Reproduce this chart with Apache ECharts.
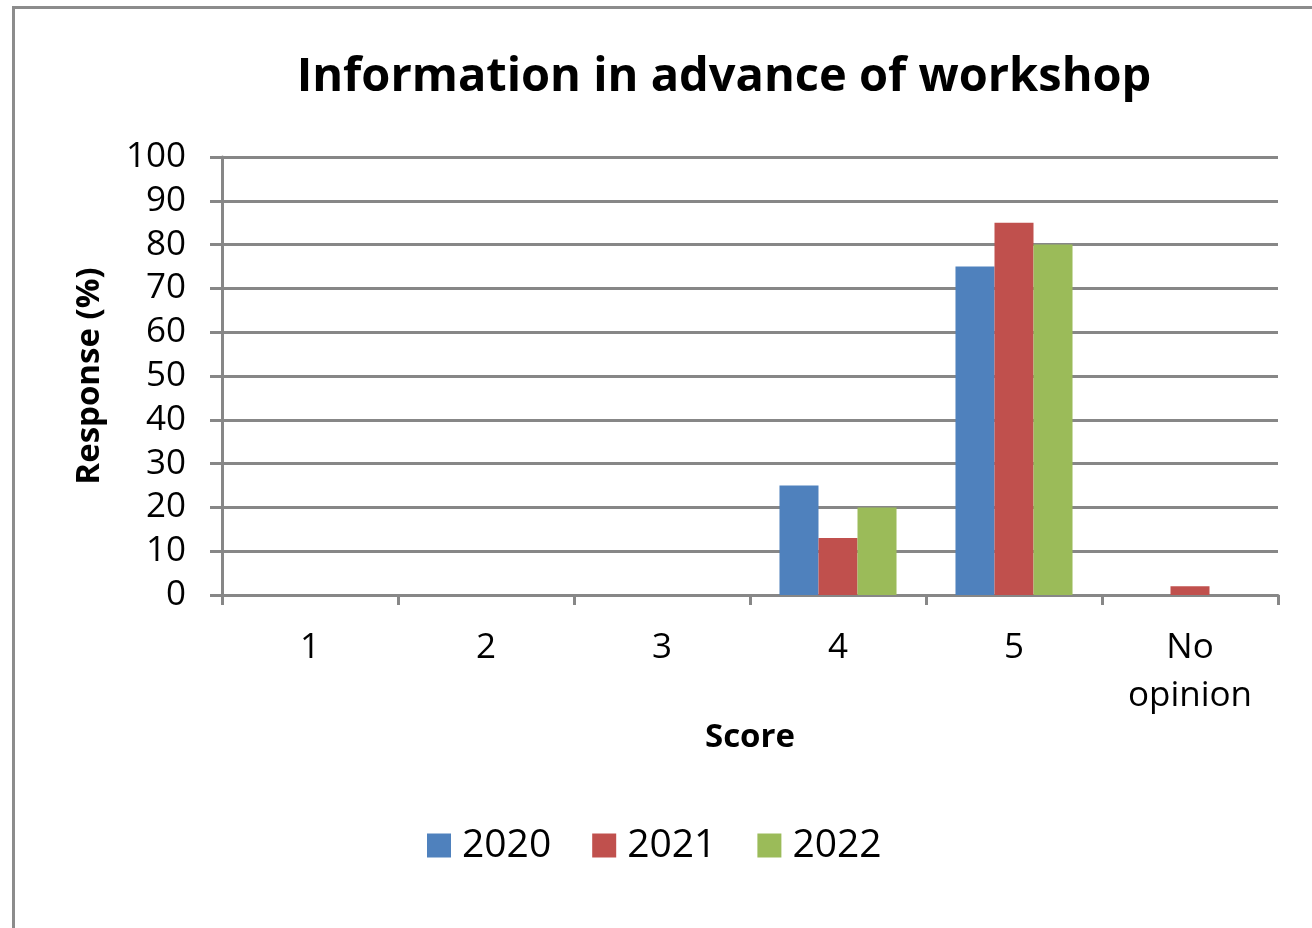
<!DOCTYPE html>
<html>
<head>
<meta charset="utf-8">
<script src="https://cdn.jsdelivr.net/npm/echarts@6/dist/echarts.min.js"></script>
<style>
    html, body { margin: 0; padding: 0; background: #fff; }
    #frame {
        position: absolute;
        left: 12px;
        top: 6px;
        width: 1400px;
        height: 1000px;
        border: 3px solid #8c8c8c;
        box-sizing: border-box;
    }
    #chart { position: absolute; left: 0; top: 0; width: 1312px; height: 928px; }
</style>
</head>
<body>
<div id="frame"></div>
<div id="chart"></div>
<script>
const scores = ['1', '2', '3', '4', '5', 'No\nopinion'];
const years = ['2020', '2021', '2022'];
const values2020 = [0, 0, 0, 25, 75, 0];
const values2021 = [0, 0, 0, 13, 85, 2];
const values2022 = [0, 0, 0, 20, 80, 0];
const colors = ['#4F81BD', '#C0504D', '#9BBB59'];

const font = '"Open Sans", "DejaVu Sans", sans-serif';
const gridColor = '#878787';

const chart = echarts.init(document.getElementById('chart'));

const seriesData = [values2020, values2021, values2022];

chart.setOption({
    animation: false,
    title: {
        text: 'Information in advance of workshop',
        left: 719,
        textAlign: 'center',
        top: 49,
        textStyle: {
            color: '#000',
            fontSize: 47,
            fontWeight: 'bold',
            fontFamily: font
        }
    },
    legend: {
        data: years,
        top: 821,
        left: 422,
        itemWidth: 24,
        itemHeight: 24,
        itemGap: 41,
        icon: 'rect',
        textStyle: {
            fontSize: 39,
            color: '#000',
            fontFamily: font,
            padding: [0, 0, 0, 6]
        }
    },
    grid: {
        left: 222,
        right: 34,
        top: 157,
        bottom: 333
    },
    xAxis: {
        type: 'category',
        data: scores,
        name: 'Score',
        nameLocation: 'middle',
        nameGap: 123,
        nameTextStyle: {
            fontSize: 33,
            fontWeight: 'bold',
            color: '#000',
            fontFamily: font
        },
        axisLine: { show: true, lineStyle: { color: gridColor, width: 3 } },
        axisTick: { show: true, length: 10, alignWithLabel: false, lineStyle: { color: gridColor, width: 3 } },
        axisLabel: {
            fontSize: 35,
            color: '#000',
            fontFamily: font,
            margin: 29,
            lineHeight: 48,
            verticalAlign: 'top'
        }
    },
    yAxis: {
        type: 'value',
        min: 0,
        max: 100,
        interval: 10,
        name: 'Response (%)',
        nameLocation: 'middle',
        nameGap: 116,
        nameTextStyle: {
            fontSize: 33,
            fontWeight: 'bold',
            color: '#000',
            fontFamily: font
        },
        axisLine: { show: true, lineStyle: { color: gridColor, width: 3 } },
        axisTick: { show: true, length: 12, lineStyle: { color: gridColor, width: 3 } },
        splitLine: { show: true, lineStyle: { color: gridColor, width: 3 } },
        axisLabel: {
            fontSize: 35,
            color: '#000',
            fontFamily: font,
            margin: 36
        }
    },
    series: years.map((y, i) => ({
        name: y,
        type: 'bar',
        data: seriesData[i],
        barGap: '0%',
        barCategoryGap: '33.5%',
        itemStyle: { color: colors[i] }
    }))
});
</script>
</body>
</html>
